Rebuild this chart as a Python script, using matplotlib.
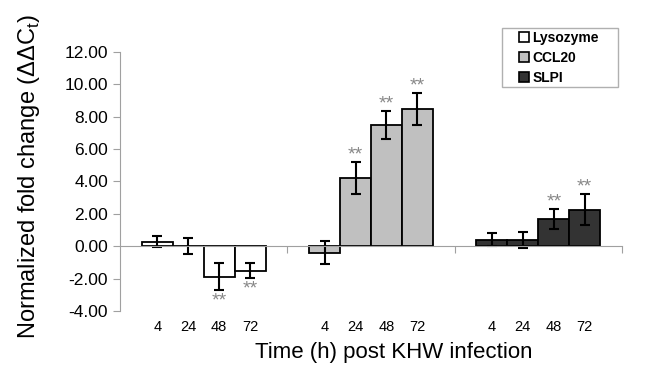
import numpy as np
import matplotlib
matplotlib.use("Agg")
import matplotlib.pyplot as plt
from matplotlib.patches import Patch, Rectangle
from matplotlib.transforms import blended_transform_factory

plt.rcParams['font.family'] = ['Liberation Sans', 'DejaVu Sans']
plt.rcParams['mathtext.fontset'] = 'custom'
plt.rcParams['mathtext.rm'] = 'Liberation Sans'

# data
genes = ["Lysozyme", "CCL20", "SLPI"]
hours = ["4", "24", "48", "72"]
means = [[0.28, 0.02, -1.88, -1.50],
         [-0.40, 4.22, 7.49, 8.48],
         [0.40, 0.40, 1.70, 2.25]]
errs = [[0.33, 0.48, 0.85, 0.45],
        [0.72, 1.00, 0.85, 1.00],
        [0.40, 0.50, 0.62, 0.95]]
signif = [[False, False, True, True],
          [False, True, True, True],
          [False, False, True, True]]
colors = ["white", "#c0c0c0", "#333333"]

fig = plt.figure(figsize=(6.46, 3.65), dpi=100)
ax = fig.add_axes([0.1858, 0.148, 0.777, 0.7096])

w = 0.185
offs = (np.arange(4) - 1.5) * w
trans = blended_transform_factory(ax.transData, ax.transAxes)
for g in range(3):
    xs = g + offs
    ax.bar(xs, means[g], w, yerr=errs[g], color=colors[g], edgecolor="black",
           linewidth=1.3, label=genes[g],
           error_kw=dict(ecolor="black", elinewidth=1.5, capsize=3.5, capthick=1.5))
    for i in range(4):
        ax.text(xs[i], -0.063, hours[i], transform=trans, ha="center", va="center",
                fontsize=10.5)
        if signif[g][i]:
            m, e = means[g][i], errs[g][i]
            if m >= 0:
                ax.annotate("**", (xs[i], m + e), xytext=(0, -1), textcoords="offset points",
                            ha="center", va="bottom", fontsize=14, color="#888888")
            else:
                ax.annotate("**", (xs[i], m - e), xytext=(0, -14), textcoords="offset points",
                            ha="center", va="bottom", fontsize=14, color="#888888")

ax.set_xlim(-0.5, 2.5)
ax.set_ylim(-4, 12)
ax.set_yticks(np.arange(-4, 13, 2))
ax.set_yticklabels(["%.2f" % v for v in np.arange(-4, 13, 2)], fontsize=12.5)
ax.set_xticks([0.5, 1.5, 2.5])
ax.set_xticklabels([])

for s in ["top", "right"]:
    ax.spines[s].set_visible(False)
ax.spines["left"].set_color("#a0a0a0")
ax.spines["bottom"].set_color("#a0a0a0")
ax.spines["bottom"].set_position(("data", 0))
ax.tick_params(axis="y", colors="#a0a0a0", labelcolor="black", length=5, direction="out")
ax.tick_params(axis="x", colors="#a0a0a0", length=5, direction="out")

ax.set_ylabel("Normalized fold change (ΔΔC$_\\mathrm{t}$)", fontsize=17)
ax.yaxis.set_label_coords(-0.155, 0.52)
ax.set_xlabel("Time (h) post KHW infection", fontsize=16)
ax.xaxis.set_label_coords(0.546, -0.12)

# legend box drawn separately, entries without frame
fig.patches.append(Rectangle((502 / 646, 1 - 87 / 365), 116 / 646, 59 / 365,
                             transform=fig.transFigure, facecolor="white",
                             edgecolor="#b0b0b0", linewidth=1.0, zorder=5))
handles = [Patch(facecolor=c, edgecolor="black", linewidth=1.2) for c in colors]
leg = fig.legend(handles, genes, loc="upper left", bbox_to_anchor=(519 / 646, 1 - 31 / 365),
                 bbox_transform=fig.transFigure, frameon=False,
                 prop=dict(size=10, weight="bold"),
                 handlelength=0.7, handleheight=0.7, handletextpad=0.25,
                 labelspacing=0.42, borderpad=0, borderaxespad=0)
leg.set_zorder(6)

fig.savefig("out.png", dpi=100)
